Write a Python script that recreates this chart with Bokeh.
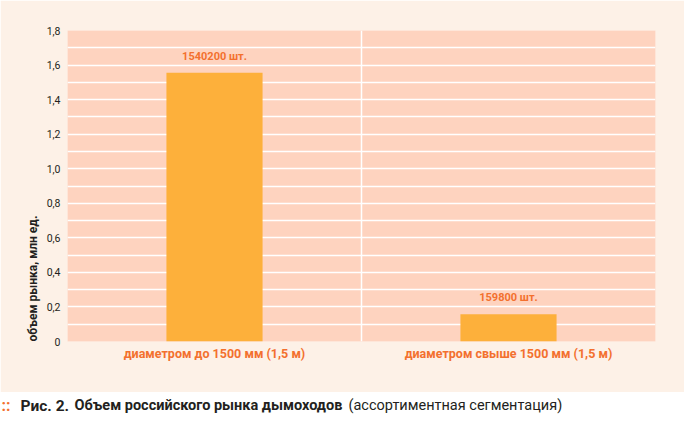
from bokeh.plotting import figure
from bokeh.models import Range1d, FactorRange, FixedTicker, Span, Title, ColumnDataSource
from bokeh.embed import file_html
from bokeh.resources import INLINE
from bokeh.core.properties import value

categories = ["диаметром до 1500 мм (1,5 м)", "диаметром свыше 1500 мм (1,5 м)"]
volumes = [1.556, 0.157]
value_labels = ["1540200 шт.", "159800 шт."]
y_ticks = [0, 0.2, 0.4, 0.6, 0.8, 1.0, 1.2, 1.4, 1.6, 1.8]
y_tick_labels = ["0", "0,2", "0,4", "0,6", "0,8", "1,0", "1,2", "1,4", "1,6", "1,8"]
grid_values = [0.1, 0.2, 0.3, 0.4, 0.5, 0.6, 0.7, 0.8, 0.9, 1.0, 1.1, 1.2, 1.3, 1.4, 1.5, 1.6, 1.7]
y_title = "объем рынка, млн ед."
caption_parts = ["Рис. 2.", "Объем российского рынка дымоходов", "(ассортиментная сегментация)"]

FONT = "Roboto"
CREAM = "#fdf1e7"
PINK = "#fed3bf"
BAR = "#fdb03b"
ORANGE = "#f3702e"
DARK = "#231f20"

src = ColumnDataSource(dict(cat=categories, v=volumes, lab=value_labels))

p = figure(width=684, height=392, x_range=FactorRange(factors=categories, range_padding=0),
           y_range=Range1d(0, 1.8), output_backend="svg", toolbar_location=None,
           min_border_left=67, min_border_right=29, min_border_top=30, min_border_bottom=51)
p.background_fill_color = PINK
p.border_fill_color = CREAM
p.outline_line_color = None

p.xgrid.grid_line_color = None
p.ygrid.ticker = FixedTicker(ticks=grid_values)
p.ygrid.grid_line_color = "white"
p.ygrid.grid_line_width = 1.5

p.add_layout(Span(location=1.0, dimension="height", line_color="white", line_width=1.5))

p.vbar(x="cat", top="v", width=0.327, source=src, fill_color=BAR, line_color=None)
p.text(x="cat", y="v", text="lab", source=src, text_align="center", text_baseline="bottom",
       y_offset=-10, text_font=value(FONT), text_font_style="bold", text_font_size="11px",
       text_color=ORANGE)

xa = p.xaxis[0]
xa.axis_line_color = None
xa.major_tick_line_color = None
xa.minor_tick_line_color = None
xa.major_tick_out = 0
xa.major_tick_in = 0
xa.major_label_standoff = 4
xa.major_label_text_font = FONT
xa.major_label_text_font_style = "bold"
xa.major_label_text_font_size = "12.5px"
xa.major_label_text_color = ORANGE

ya = p.yaxis[0]
ya.ticker = FixedTicker(ticks=y_ticks)
ya.major_label_overrides = {t: l for t, l in zip(y_ticks, y_tick_labels)}
ya.axis_line_color = None
ya.major_tick_line_color = None
ya.minor_tick_line_color = None
ya.major_tick_out = 0
ya.major_tick_in = 0
ya.minor_tick_out = 0
ya.major_label_standoff = 7
ya.major_label_text_font = FONT
ya.major_label_text_font_size = "10.5px"
ya.major_label_text_color = DARK

p.add_layout(Title(text=y_title, align="left", text_font=FONT, text_font_style="bold",
                   text_font_size="12px", text_color=DARK, standoff=7), "left")

# caption (separate root so that its frame is not aligned with the chart's frame)
c = figure(width=684, height=24, x_range=Range1d(0, 684), y_range=Range1d(24, 0),
           x_axis_type=None, y_axis_type=None,
           output_backend="svg", toolbar_location=None, min_border=0)
c.grid.visible = False
c.outline_line_color = None
c.background_fill_color = "white"
c.border_fill_color = "white"
cap_y = [13]
c.text(x=[1], y=cap_y, text=["::"], text_font=value(FONT), text_font_style="bold",
       text_font_size="16px", text_color=ORANGE, text_baseline="middle")
c.text(x=[20], y=cap_y, text=[caption_parts[0]], text_font=value(FONT), text_font_style="bold",
       text_font_size="15.5px", text_color=DARK, text_baseline="middle")
c.text(x=[74], y=cap_y, text=[caption_parts[1]], text_font=value(FONT), text_font_style="bold",
       text_font_size="14.5px", text_color=DARK, text_baseline="middle")
c.text(x=[348], y=cap_y, text=[caption_parts[2]], text_font=value(FONT),
       text_font_size="14.5px", text_color=DARK, text_baseline="middle")

open("out.html", "w").write(file_html([p, c], INLINE))
